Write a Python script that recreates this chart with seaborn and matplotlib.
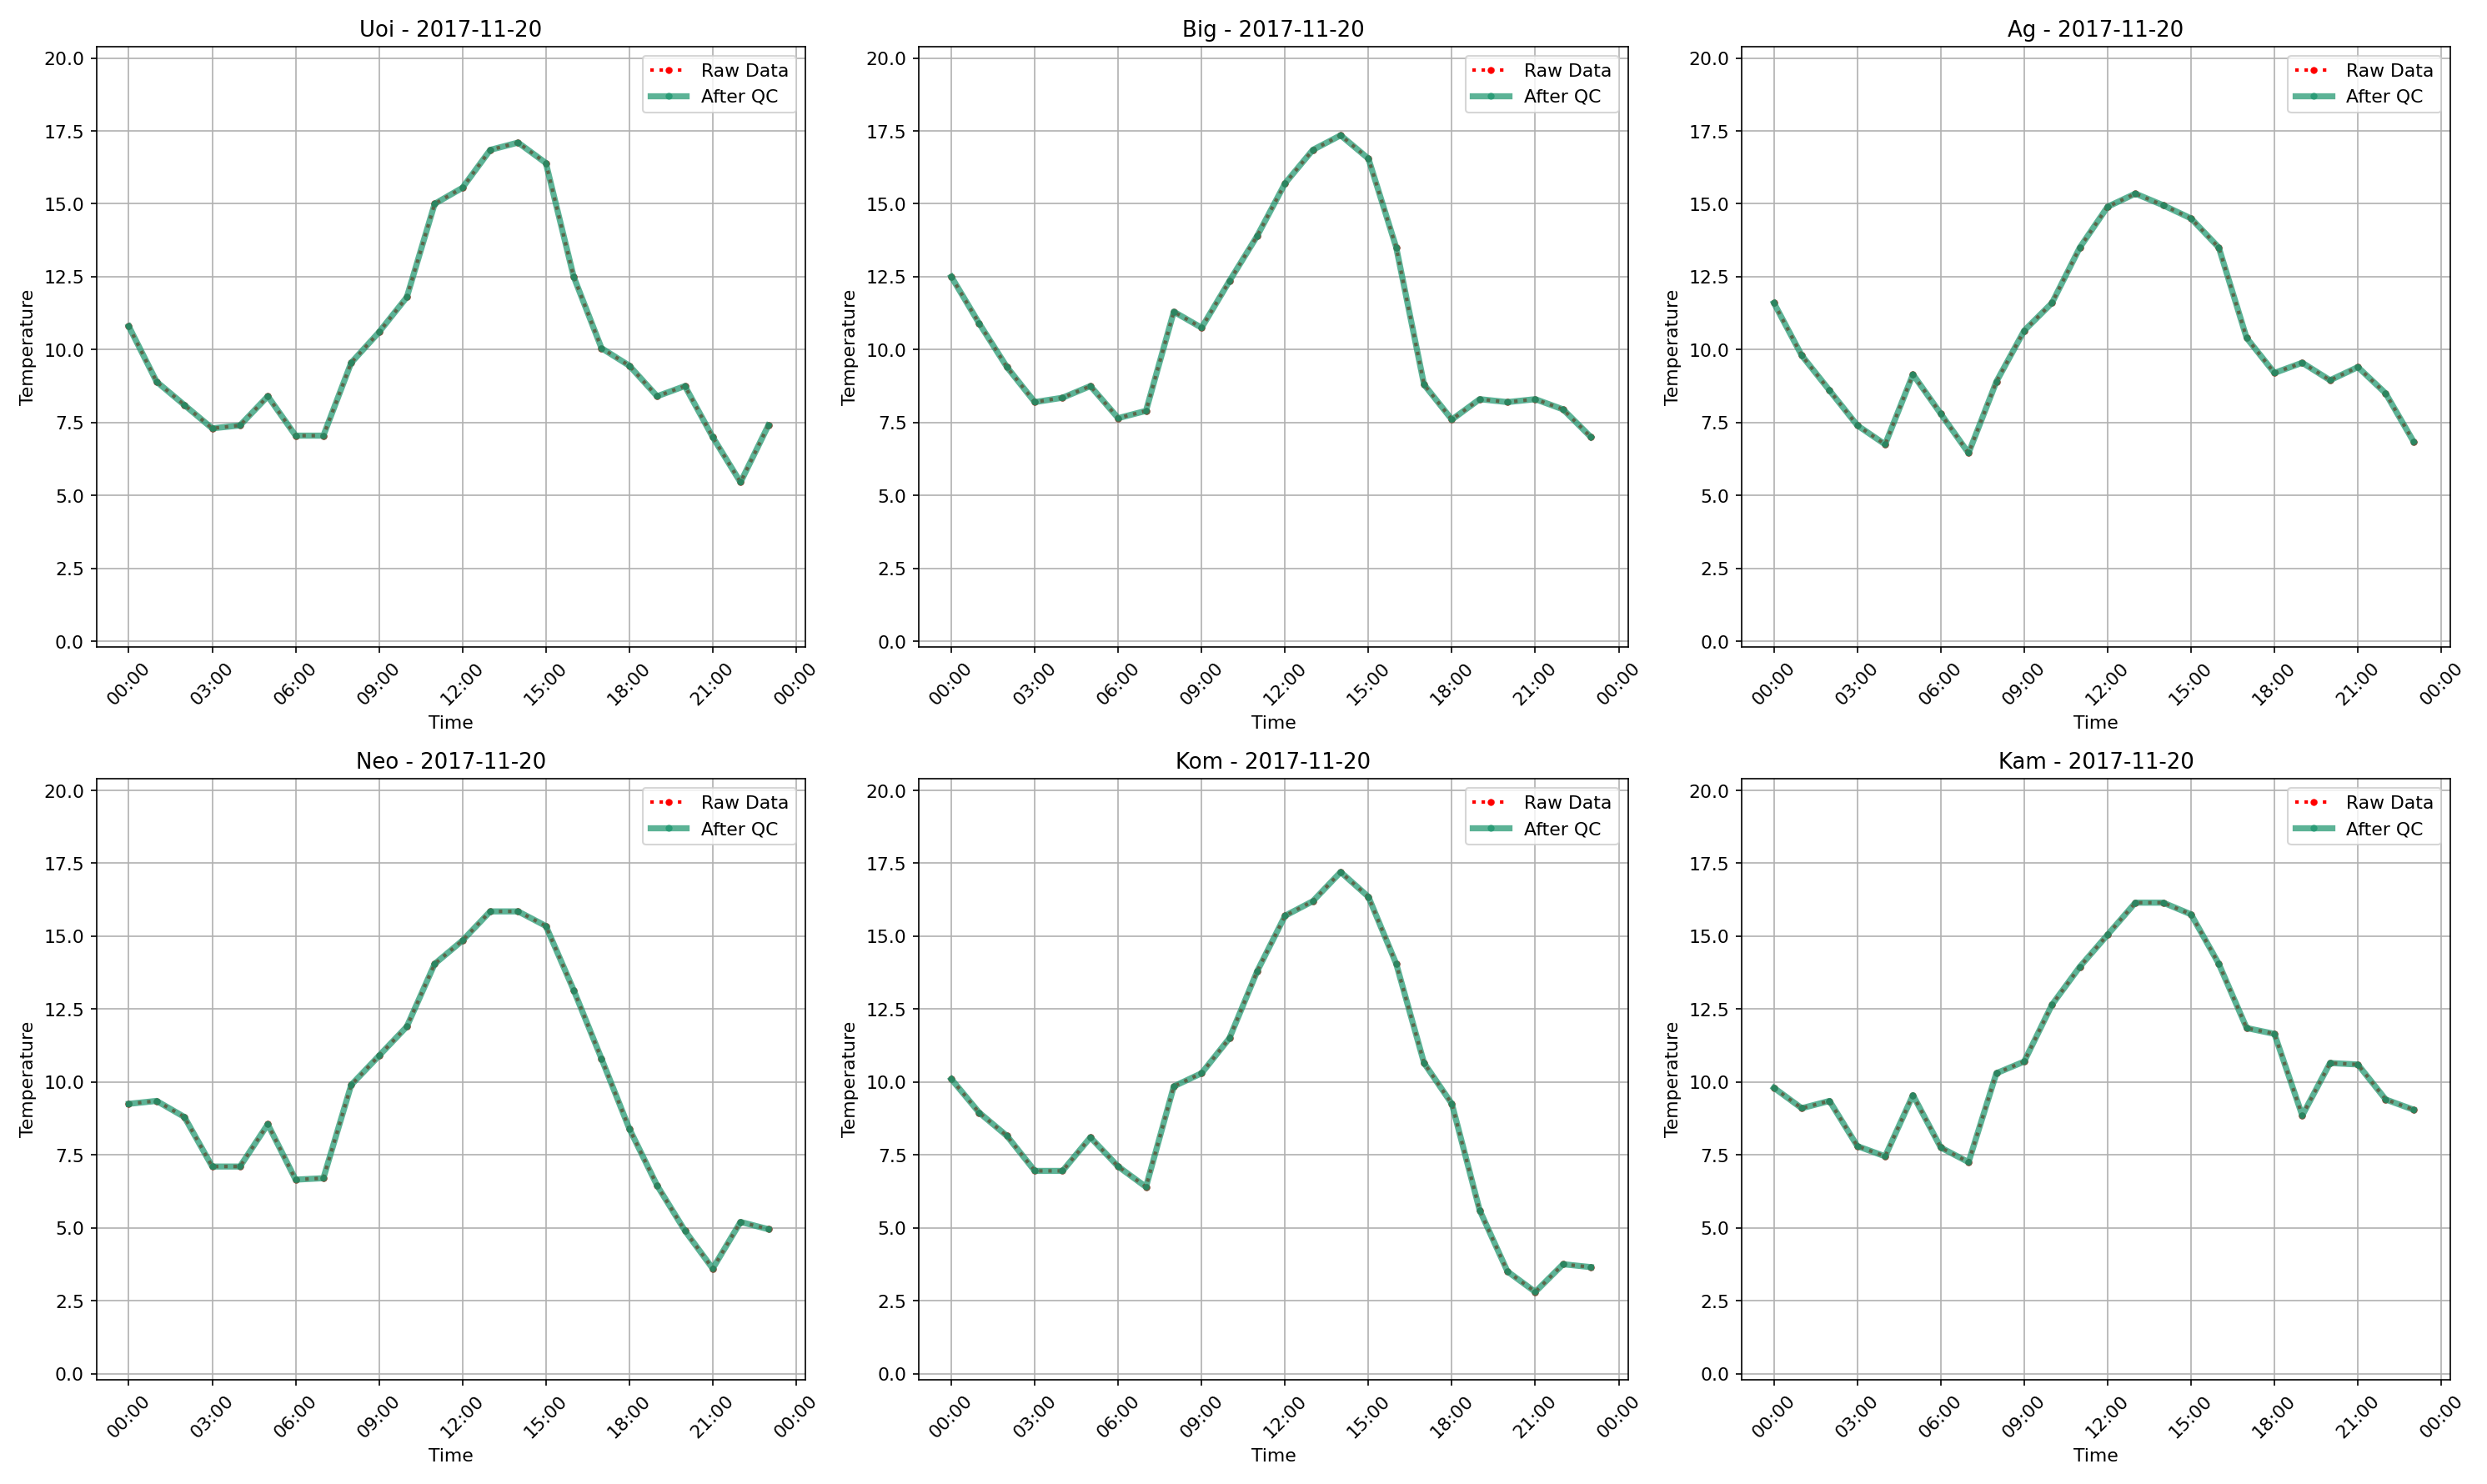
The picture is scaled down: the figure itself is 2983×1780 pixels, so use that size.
import matplotlib
matplotlib.use("Agg")
import matplotlib.pyplot as plt
import matplotlib.dates as mdates
import seaborn as sns
import pandas as pd

stations = ["Uoi", "Big", "Ag", "Neo", "Kom", "Kam"]
uoi = [10.8, 8.9, 8.1, 7.3, 7.4, 8.4, 7.05, 7.05, 9.55, 10.6, 11.8, 15.0, 15.55, 16.85, 17.1, 16.4, 12.5, 10.05, 9.45, 8.4, 8.75, 7.0, 5.45, 7.4]
big = [12.5, 10.9, 9.4, 8.2, 8.35, 8.75, 7.65, 7.9, 11.3, 10.75, 12.35, 13.9, 15.7, 16.85, 17.35, 16.55, 13.5, 8.8, 7.6, 8.3, 8.2, 8.3, 7.95, 7.0]
ag = [11.6, 9.8, 8.6, 7.4, 6.75, 9.15, 7.8, 6.45, 8.9, 10.65, 11.6, 13.5, 14.9, 15.35, 14.95, 14.5, 13.5, 10.4, 9.2, 9.55, 8.95, 9.4, 8.5, 6.85]
neo = [9.25, 9.35, 8.8, 7.1, 7.1, 8.55, 6.65, 6.7, 9.9, 10.9, 11.9, 14.05, 14.85, 15.85, 15.85, 15.35, 13.15, 10.8, 8.4, 6.45, 4.9, 3.6, 5.2, 4.95]
kom = [10.1, 8.95, 8.15, 6.95, 6.95, 8.1, 7.1, 6.4, 9.85, 10.3, 11.5, 13.8, 15.7, 16.2, 17.2, 16.35, 14.05, 10.65, 9.25, 5.6, 3.5, 2.8, 3.75, 3.65]
kam = [9.8, 9.1, 9.35, 7.8, 7.45, 9.55, 7.75, 7.25, 10.3, 10.7, 12.65, 13.95, 15.05, 16.15, 16.15, 15.75, 14.05, 11.85, 11.65, 8.85, 10.65, 10.6, 9.4, 9.05]
series = [uoi, big, ag, neo, kom, kam]
times = pd.date_range("2017-11-20 00:00", periods=24, freq="h")

plt.rcParams['font.family'] = ['DejaVu Sans']
plt.rcParams['font.size'] = 10.5
fig, axes = plt.subplots(2, 3, figsize=(19.89, 11.87), dpi=150)
for ax, name, vals in zip(axes.flat, stations, series):
    df = pd.DataFrame({"Time": times, "Temperature": vals})
    sns.lineplot(data=df, x="Time", y="Temperature", ax=ax, color="red", linestyle=":",
                 marker="o", markersize=4, markeredgewidth=0, linewidth=2, label="Raw Data")
    sns.lineplot(data=df, x="Time", y="Temperature", ax=ax, color="#17936a", alpha=0.7,
                 marker="o", markersize=4, markeredgewidth=0, linewidth=3.5, label="After QC")
    ax.set_title(f"{name} - 2017-11-20", fontsize=12.5)
    ax.set_ylim(-0.2, 20.4)
    ax.set_xlim(pd.Timestamp("2017-11-19 22:50"), pd.Timestamp("2017-11-21 00:20"))
    ax.xaxis.set_major_locator(mdates.HourLocator(byhour=range(0, 24, 3)))
    ax.xaxis.set_major_formatter(mdates.DateFormatter("%H:%M"))
    ax.tick_params(axis="x", rotation=45)
    ax.grid(True, color="#b0b0b0", linewidth=0.8)
    ax.legend(loc="upper right")
fig.tight_layout()
fig.savefig("out.png", dpi=150)
